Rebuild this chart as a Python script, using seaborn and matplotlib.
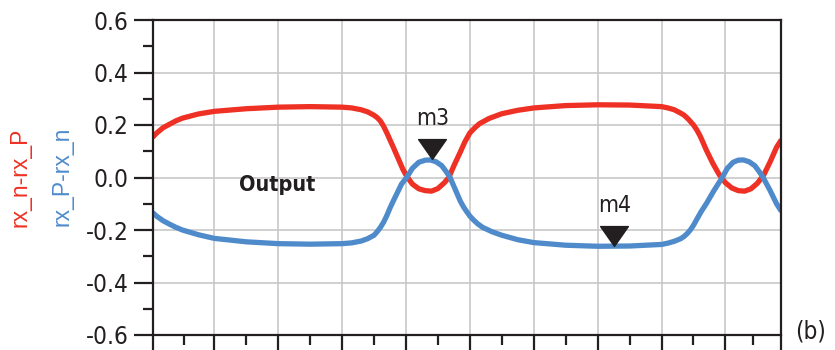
import numpy as np
import pandas as pd
import matplotlib
matplotlib.use("Agg")
import matplotlib.pyplot as plt
import matplotlib.transforms as mtransforms
from matplotlib.path import Path
from matplotlib.ticker import FixedLocator
import seaborn as sns

# ---------------- data ----------------
x_red = [0.04, 0.1, 0.2, 0.3, 0.4, 0.5, 0.75, 1.0, 1.5, 2.0, 2.5, 3.0, 3.15,
         3.3, 3.4, 3.5, 3.55, 3.6, 3.65, 3.7, 3.75, 3.8, 3.85, 3.9, 3.95, 4.01,
         4.1, 4.2, 4.3, 4.4, 4.5, 4.6, 4.67, 4.75, 4.85, 4.92, 5.0, 5.08, 5.15,
         5.3, 5.5, 5.75, 6.0, 6.5, 7.0, 7.5, 8.0, 8.1, 8.2, 8.3, 8.35, 8.42,
         8.5, 8.55, 8.6, 8.65, 8.7, 8.8, 8.9, 9.0, 9.1, 9.2, 9.3, 9.4, 9.5,
         9.6, 9.7, 9.8, 9.865]
y_red = [0.155, 0.17, 0.19, 0.203, 0.216, 0.226, 0.242, 0.252, 0.262, 0.268,
         0.27, 0.268, 0.265, 0.258, 0.25, 0.237, 0.228, 0.215, 0.195, 0.17,
         0.143, 0.116, 0.088, 0.06, 0.032, 0.005, -0.025, -0.043, -0.05,
         -0.052, -0.042, -0.02, 0.0, 0.045, 0.097, 0.135, 0.17, 0.19, 0.205,
         0.225, 0.243, 0.256, 0.265, 0.274, 0.277, 0.276, 0.27, 0.265, 0.258,
         0.245, 0.238, 0.222, 0.2, 0.182, 0.16, 0.133, 0.105, 0.055, 0.012,
         -0.02, -0.04, -0.05, -0.052, -0.043, -0.022, 0.01, 0.06, 0.115, 0.14]

x_blue = [0.04, 0.1, 0.2, 0.3, 0.4, 0.5, 0.75, 1.0, 1.5, 2.0, 2.5, 3.0, 3.15,
          3.3, 3.4, 3.5, 3.55, 3.6, 3.65, 3.7, 3.75, 3.8, 3.85, 3.93, 4.01,
          4.1, 4.2, 4.3, 4.38, 4.47, 4.56, 4.63, 4.69, 4.77, 4.85, 4.9, 4.95,
          5.0, 5.05, 5.12, 5.2, 5.35, 5.5, 5.75, 6.0, 6.5, 7.0, 7.5, 8.0, 8.1,
          8.2, 8.3, 8.35, 8.4, 8.45, 8.5, 8.55, 8.62, 8.7, 8.82, 8.95, 9.03,
          9.12, 9.2, 9.28, 9.37, 9.46, 9.53, 9.59, 9.7, 9.8, 9.865]
y_blue = [-0.135, -0.148, -0.165, -0.178, -0.19, -0.2, -0.218, -0.232, -0.245,
          -0.252, -0.254, -0.252, -0.249, -0.242, -0.233, -0.22, -0.206, -0.19,
          -0.17, -0.145, -0.116, -0.09, -0.065, -0.025, 0.0, 0.035, 0.058,
          0.066, 0.067, 0.06, 0.045, 0.022, 0.0, -0.045, -0.09, -0.112, -0.13,
          -0.147, -0.16, -0.176, -0.19, -0.207, -0.22, -0.237, -0.248, -0.258,
          -0.262, -0.261, -0.255, -0.25, -0.243, -0.233, -0.225, -0.214, -0.2,
          -0.182, -0.16, -0.13, -0.1, -0.05, 0.0, 0.035, 0.058, 0.066, 0.067,
          0.06, 0.045, 0.022, 0.0, -0.05, -0.1, -0.125]

marker_names = ["m3", "m4"]
marker_x = [4.40, 7.25]
marker_y = [0.067, -0.262]

y_ticks = [-0.6, -0.4, -0.2, 0.0, 0.2, 0.4, 0.6]
y_tick_labels = ["-0.6", "-0.4", "-0.2", "0.0", "0.2", "0.4", "0.6"]
x_grid = [1, 2, 3, 4, 5, 6, 7, 8, 9]
x_lo, x_hi = 0.04, 9.865

red_label = "rx_n-rx_P"
blue_label = "rx_P-rx_n"
annotation = "Output"
panel_tag = "(b)"

RED = "#EE3124"
BLUE = "#4F8BCB"
INK = "#231F20"

# ---------------- style ----------------
sns.set_style("ticks")
NARROW = ["DejaVu Sans Condensed", "Liberation Sans Narrow", "DejaVu Sans"]
REG = ["Liberation Sans", "DejaVu Sans"]
plt.rcParams["font.family"] = NARROW
plt.rcParams["font.stretch"] = "condensed"

fig = plt.figure(figsize=(8.35, 3.5), dpi=100)
ax = fig.add_axes([153 / 835, 15 / 350, (780.7 - 153) / 835, 315 / 350])

df_red = pd.DataFrame({"x": x_red, "y": y_red})
df_blue = pd.DataFrame({"x": x_blue, "y": y_blue})
sns.lineplot(data=df_red, x="x", y="y", ax=ax, color=RED, lw=3.8,
             solid_capstyle="round", solid_joinstyle="round", zorder=3)
sns.lineplot(data=df_blue, x="x", y="y", ax=ax, color=BLUE, lw=3.8,
             solid_capstyle="round", solid_joinstyle="round", zorder=3)

ax.set_xlim(x_lo, x_hi)
ax.set_ylim(-0.6, 0.6)
ax.set_xlabel("")
ax.set_ylabel("")

# ticks
maj_x = [x_lo] + x_grid + [x_hi]
min_x = [(a + b) / 2 for a, b in zip(maj_x[:-1], maj_x[1:])]
ax.xaxis.set_major_locator(FixedLocator(maj_x))
ax.xaxis.set_minor_locator(FixedLocator(min_x))
ax.set_xticklabels([])
ax.yaxis.set_major_locator(FixedLocator(y_ticks))
ax.yaxis.set_minor_locator(FixedLocator([-0.5, -0.3, -0.1, 0.1, 0.3, 0.5]))
ax.set_yticklabels(y_tick_labels)
for lab in ax.get_yticklabels():
    lab.set_fontstretch("condensed")

ax.tick_params(axis="y", which="major", length=13.5, width=1.6, color=INK,
               pad=4, labelsize=17.5, labelcolor=INK)
ax.tick_params(axis="y", which="minor", length=7.2, width=1.6, color=INK)
ax.tick_params(axis="x", which="major", length=11, width=1.6, color=INK)
ax.tick_params(axis="x", which="minor", length=7.2, width=1.6, color=INK)

ax.grid(True, which="major", color="#C8C8C8", lw=1.2, zorder=0)
ax.set_axisbelow(True)

for s in ax.spines.values():
    s.set_linewidth(1.6)
    s.set_color(INK)
    s.set_zorder(5)

# markers
tri = Path([(-1.4, 1.0), (1.4, 1.0), (0.0, -1.0), (-1.4, 1.0)],
           [Path.MOVETO, Path.LINETO, Path.LINETO, Path.CLOSEPOLY])
off = mtransforms.offset_copy(ax.transData, fig=fig, x=0, y=10.5, units="dots")
ax.plot(marker_x, marker_y, linestyle="none", marker=tri, markersize=20,
        color=INK, transform=off, zorder=6, clip_on=False)
for name, mx, my in zip(marker_names, marker_x, marker_y):
    ax.annotate(name, (mx, my), xytext=(1, 41), textcoords="offset pixels",
                ha="center", va="center", fontsize=16.5, color=INK,
                family=NARROW, fontstretch="condensed")

ax.text(1.98, -0.03, annotation, ha="center", va="center", fontsize=15.5,
        fontweight="heavy", color=INK, family=NARROW, fontstretch="condensed")

fig.text(20 / 835, 1 - 177 / 350, red_label, rotation=90, ha="center",
         va="center", fontsize=16.5, color=RED, family=REG,
         fontstretch="normal")
fig.text(62.5 / 835, 1 - 176 / 350, blue_label, rotation=90, ha="center",
         va="center", fontsize=16.5, color=BLUE, family=REG,
         fontstretch="normal")
fig.text(810.5 / 835, 1 - 331 / 350, panel_tag, ha="center", va="center",
         fontsize=17.5, color=INK, family=NARROW, fontstretch="condensed")

fig.savefig("out.png", dpi=100)
